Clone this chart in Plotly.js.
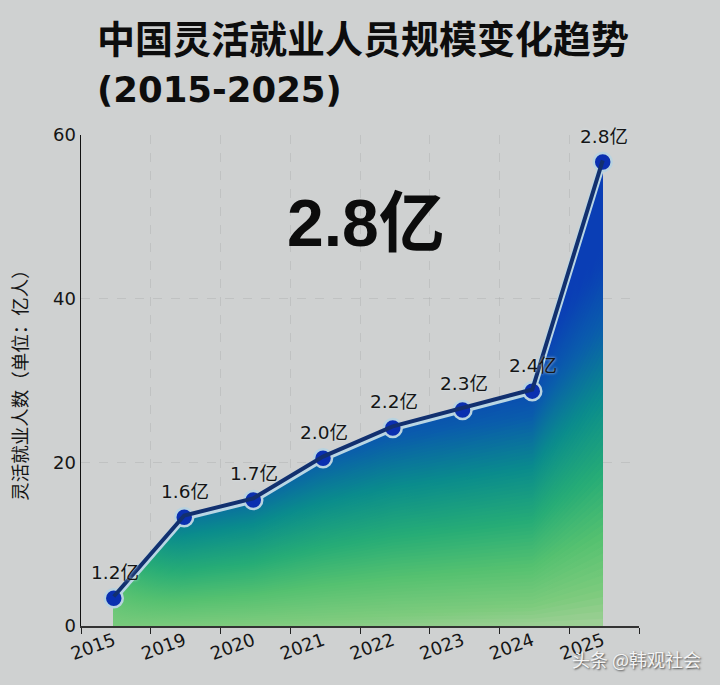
<!DOCTYPE html>
<html><head><meta charset="utf-8">
<script src="https://cdn.plot.ly/plotly-3.0.1.min.js"></script>
<style>html,body{margin:0;padding:0;background:#cfd1d1}</style></head>
<body><div id="chart" style="width:720px;height:685px"></div>
<script>
const years = ['2015','2019','2020','2021','2022','2023','2024','2025'];
const positions = [0.47,1.48,2.47,3.47,4.47,5.47,6.47,7.48];
const values = [3.4,13.3,15.4,20.5,24.2,26.4,28.7,56.7];
const pointLabels = ['1.2亿','1.6亿','1.7亿','2.0亿','2.2亿','2.3亿','2.4亿','2.8亿'];
const yTicks = [0,20,40,60];

const CJK = '"Noto Sans CJK SC"';
const SANS = '"DejaVu Sans",' + CJK;

// colour ramp of the area fill, pale green to deep blue
const ramp = [[0,[165,208,155]],[0.1,[125,203,125]],[0.25,[85,193,112]],[0.42,[38,172,118]],[0.62,[10,140,140]],[0.82,[10,92,172]],[1,[10,62,181]]];
function rampColor(t){
  t = Math.max(0,Math.min(1,t));
  for(let i=1;i<ramp.length;i++){
    if(t<=ramp[i][0]){
      const f=(t-ramp[i-1][0])/(ramp[i][0]-ramp[i-1][0]);
      const a=ramp[i-1][1],b=ramp[i][1];
      return 'rgb('+a.map((c,j)=>Math.round(c+(b[j]-c)*f)).join(',')+')';
    }
  }
  return 'rgb(10,62,181)';
}
// Nested copies of the area, tallest first, give the two-way shading of the fill.
const traces = [];
const LAYERS = 64, SUB = 6;
const x0 = positions[0], xn = positions[positions.length-1];
for(let l=0;l<LAYERS;l++){
  const k = 1 - l/LAYERS;
  const stops = [];
  for(let i=0;i<positions.length-1;i++){
    for(let s=(i===0?0:1);s<=SUB;s++){
      const g=s/SUB, p=positions[i]+(positions[i+1]-positions[i])*g, v=values[i]+(values[i+1]-values[i])*g;
      const frac=(p-x0)/(xn-x0), h=k*v;
      const t = 0.557*k*Math.min(1,v/13) + 0.0122*h + 0.12*(1-frac)*(1-k);
      stops.push([frac, rampColor(t)]);
    }
  }
  traces.push({
    x:positions, y:values.map(v=>v*k), type:'scatter', mode:'none', fill:'tozeroy',
    fillgradient:{type:'horizontal', colorscale:stops, start:x0, stop:xn},
    hoverinfo:'skip', showlegend:false
  });
}
// light edge, dark line (pushed up a little through a shifted axis), markers
traces.push({x:positions,y:values,type:'scatter',mode:'lines',line:{color:'#b9d6e4',width:7},hoverinfo:'skip',showlegend:false});
traces.push({x:positions,y:values,yaxis:'y2',type:'scatter',mode:'lines',line:{color:'#12306f',width:4},hoverinfo:'skip',showlegend:false});
traces.push({x:positions,y:values,type:'scatter',mode:'markers',
  marker:{color:'#0a2fb0',size:18,line:{color:'#b9d3e0',width:2.5}},hoverinfo:'skip',showlegend:false});

const annotations = positions.map((p,i)=>({
  x:p,y:values[i],xref:'x',yref:'y',text:pointLabels[i],showarrow:false,yshift:26,xshift:1,
  font:{family:SANS,size:18.5,color:'#151515',shadow:'0 0 3px #d5e3e8'}
}));
annotations.push({xref:'paper',yref:'paper',x:(366-81)/558,y:0.8215,xanchor:'center',yanchor:'middle',text:'<b>2.8亿</b>',showarrow:false,
  font:{family:'"Liberation Sans",'+CJK,size:66,color:'#0c0c0c'}});
annotations.push({xref:'paper',yref:'paper',x:(703-81)/558,y:(626-659)/491,xanchor:'right',yanchor:'middle',text:'头条 @韩观社会',showarrow:false,
  font:{family:CJK,size:18,color:'#f4f4f4',shadow:'1px 1px 2px #444'}});

const layout = {
  width:720,height:685,
  paper_bgcolor:'#cfd1d1',plot_bgcolor:'#cfd1d1',
  margin:{l:81,r:81,t:135,b:59},
  title:{text:'<b>中国灵活就业人员规模变化趋势<br><span style="font-family:\'DejaVu Sans\';font-size:35.5px">(2015-2025)</span></b>',
    x:97/720,xanchor:'left',xref:'container',yref:'container',y:1-53/685,yanchor:'top',
    font:{family:'"Liberation Sans",'+CJK,size:38,color:'#0d0d0d'}},
  xaxis:{range:[0,8],tickvals:positions,ticktext:years,tickangle:-20,ticks:'',
    tickfont:{family:SANS,size:18,color:'#151515'},showgrid:false,zeroline:false,showline:false,fixedrange:true},
  xaxis2:{overlaying:'x',side:'bottom',anchor:'y',range:[0,8],tickvals:[0,1,2,3,4,5,6,7,8],ticktext:['','','','','','','','',''],
    ticks:'outside',ticklen:6,tickcolor:'#222',showline:true,linecolor:'#333',linewidth:1.5,
    showgrid:true,griddash:'dash',gridcolor:'rgba(170,172,172,0.4)',gridwidth:1,zeroline:false},
  yaxis:{range:[0,60],tickvals:yTicks,ticks:'',tickfont:{family:SANS,size:18,color:'#151515'},
    showline:true,linecolor:'#111',linewidth:1.5,showgrid:true,griddash:'dash',gridcolor:'rgba(170,172,172,0.4)',zeroline:false,
    title:{text:'灵活就业人数（单位：亿人）',standoff:20,font:{family:CJK,size:18.5,color:'#151515'}}},
  yaxis2:{overlaying:'y',range:[-0.2,59.8],visible:false},
  annotations:annotations
};
// an invisible trace keeps the tick axis active
traces.unshift({x:[0,8],y:[0,0],xaxis:'x2',type:'scatter',mode:'none',hoverinfo:'skip',showlegend:false});
Plotly.newPlot('chart',traces,layout,{displayModeBar:false,staticPlot:true});
</script></body></html>
